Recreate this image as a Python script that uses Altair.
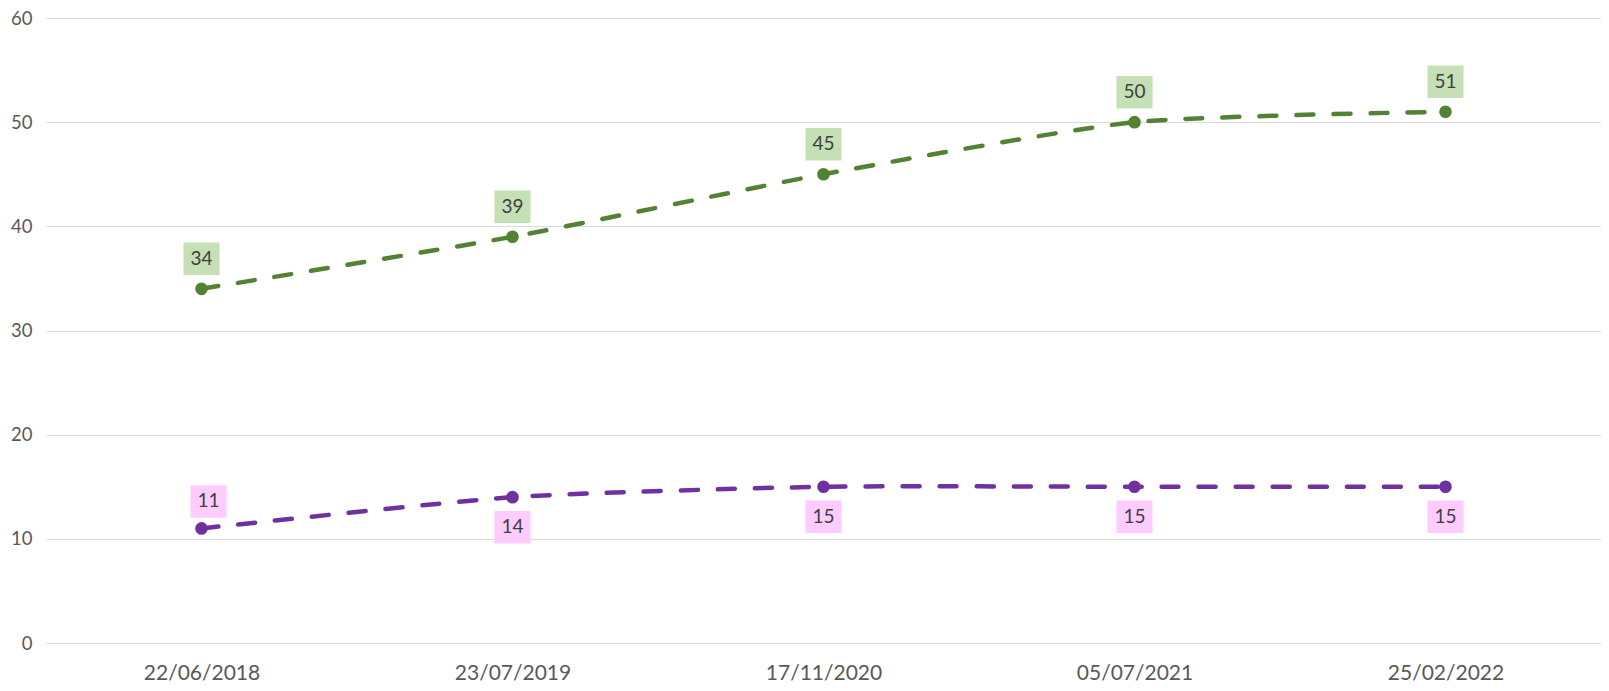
import altair as alt
import pandas as pd

dates = ["22/06/2018", "23/07/2019", "17/11/2020", "05/07/2021", "25/02/2022"]
green_values = [34, 39, 45, 50, 51]
purple_values = [11, 14, 15, 15, 15]

green_df = pd.DataFrame({"date": dates, "value": green_values})
purple_df = pd.DataFrame({"date": dates, "value": purple_values})

GREEN = "#548235"
PURPLE = "#7030A0"
GREEN_BOX = "#C5E0B4"
PINK_BOX = "#FFCCFF"
FONT = "Lato"
BOX = "M-1,-0.9H1V0.9H-1Z"
LABEL_SIZE = 19

x = alt.X("date:N", sort=dates, title=None,
          scale=alt.Scale(type="point", padding=0.5),
          axis=alt.Axis(domain=False, ticks=False, grid=False, labelPadding=19,
                        labelFontSize=21, labelColor="#595959", labelFont=FONT,
                        labelAngle=0))
y = alt.Y("value:Q", title=None,
          scale=alt.Scale(domain=[0, 60]),
          axis=alt.Axis(values=[0, 10, 20, 30, 40, 50, 60], domain=False, ticks=False,
                        labelPadding=14, labelFontSize=18.5, labelColor="#595959",
                        labelFont=FONT, gridColor="#D9D9D9", gridWidth=1))


def series(df, color):
    base = alt.Chart(df)
    line = base.mark_line(color=color, strokeWidth=4.5, strokeDash=[17, 20],
                          strokeCap="round", interpolate="cardinal",
                          tension=0.4).encode(x=x, y=y)
    pts = base.mark_circle(color=color, size=160, opacity=1).encode(x=x, y=y)
    return base, line, pts


gb, gline, gpts = series(green_df, GREEN)
pb, pline, ppts = series(purple_df, PURPLE)

g_box = gb.mark_point(shape=BOX, filled=True, opacity=1, color=GREEN_BOX,
                      size=1300, yOffset=-30).encode(x=x, y=y)
g_txt = gb.mark_text(yOffset=-30, fontSize=LABEL_SIZE, font=FONT, color="#404040").encode(
    x=x, y=y, text="value:Q")

p_above = pb.transform_filter(alt.datum.date == dates[0])
p_below = pb.transform_filter(alt.datum.date != dates[0])

p_box_a = p_above.mark_point(shape=BOX, filled=True, opacity=1, color=PINK_BOX,
                             size=1300, yOffset=-27, xOffset=7).encode(x=x, y=y)
p_txt_a = p_above.mark_text(yOffset=-27, xOffset=7, fontSize=LABEL_SIZE, font=FONT,
                            color="#404040").encode(x=x, y=y, text="value:Q")
p_box_b = p_below.mark_point(shape=BOX, filled=True, opacity=1, color=PINK_BOX,
                             size=1300, yOffset=30).encode(x=x, y=y)
p_txt_b = p_below.mark_text(yOffset=30, fontSize=LABEL_SIZE, font=FONT,
                            color="#404040").encode(x=x, y=y, text="value:Q")

chart = alt.layer(
    gline, pline, gpts, ppts, g_box, g_txt, p_box_a, p_txt_a, p_box_b, p_txt_b
).properties(
    width=1555, height=625,
    autosize=alt.AutoSizeParams(type="none"),
    padding={"left": 38, "top": 10, "right": 0, "bottom": 40},
).configure_view(stroke=None)

chart.save("out.html", embed_options={"renderer": "svg", "actions": False})
